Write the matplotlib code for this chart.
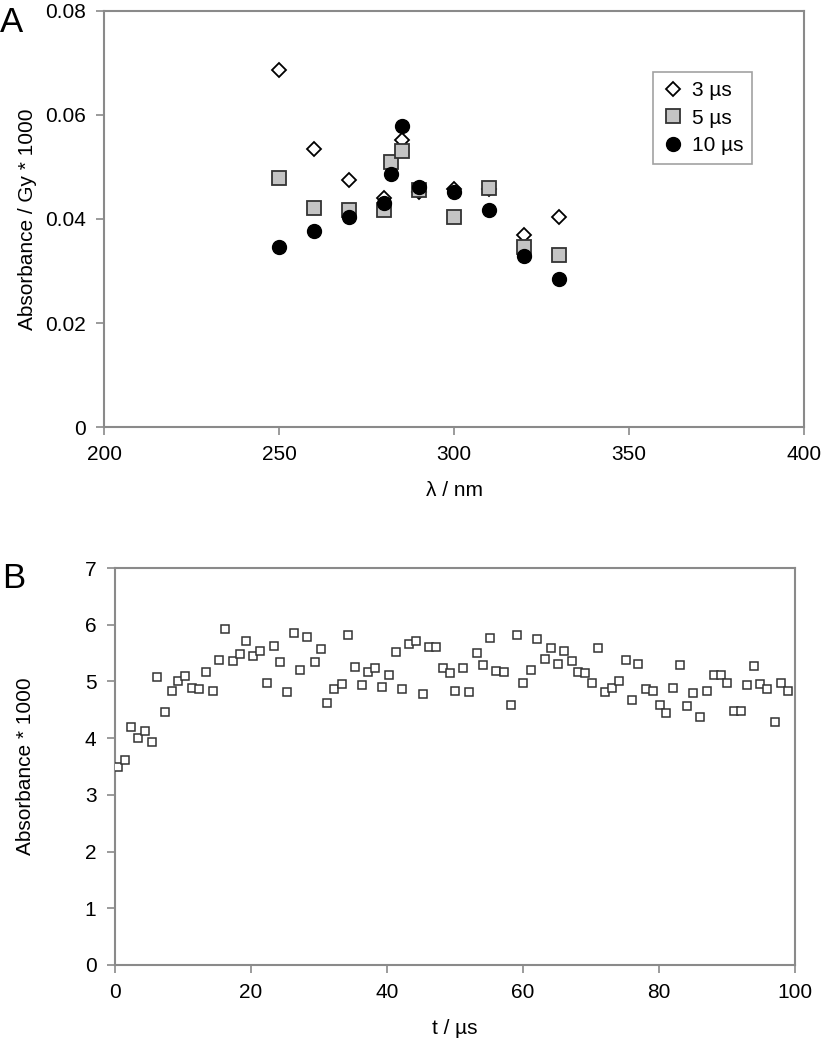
import matplotlib
matplotlib.use("Agg")
import matplotlib.pyplot as plt

plt.rcParams['font.family'] = ['Liberation Sans', 'DejaVu Sans']

# Panel A data
wavelength = [250, 260, 270, 280, 282, 285, 290, 300, 310, 320, 330]
abs_3us = [0.0687, 0.0535, 0.0475, 0.0440, None, 0.0552, 0.0452, 0.0458, 0.0458, 0.0369, 0.0404]
abs_5us = [0.0479, 0.0421, 0.0417, 0.0417, 0.0510, 0.0531, 0.0455, 0.0404, 0.0460, 0.0346, 0.0331]
abs_10us = [0.0346, 0.0377, 0.0404, 0.0431, 0.0487, 0.0579, 0.0462, 0.0452, 0.0417, 0.0329, 0.0285]
legend_labels = ["3 µs", "5 µs", "10 µs"]

# Panel B data
time_us = [0.5, 1.6, 2.4, 3.4, 4.5, 5.5, 6.3, 7.4, 8.4, 9.4,
           10.3, 11.4, 12.4, 13.4, 14.5, 15.4, 16.3, 17.4, 18.4, 19.3,
           20.3, 21.4, 22.4, 23.4, 24.3, 25.4, 26.4, 27.3, 28.3, 29.4,
           30.4, 31.3, 32.3, 33.4, 34.3, 35.3, 36.3, 37.3, 38.3, 39.3,
           40.3, 41.4, 42.3, 43.3, 44.3, 45.3, 46.2, 47.3, 48.2, 49.3,
           50.1, 51.2, 52.1, 53.2, 54.2, 55.2, 56.1, 57.2, 58.2, 59.2,
           60.1, 61.2, 62.1, 63.2, 64.2, 65.1, 66.1, 67.2, 68.1, 69.1,
           70.1, 71.1, 72.1, 73.1, 74.1, 75.1, 76.1, 77.0, 78.1, 79.1,
           80.1, 81.0, 82.1, 83.1, 84.1, 85.0, 86.0, 87.0, 88.1, 89.1,
           90.0, 91.0, 92.0, 93.0, 94.0, 94.9, 95.9, 97.0, 98.0, 98.9]
absorbance_b = [3.49, 3.62, 4.19, 4.00, 4.12, 3.94, 5.07, 4.46, 4.84, 5.01,
                5.09, 4.88, 4.86, 5.16, 4.84, 5.37, 5.92, 5.36, 5.49, 5.71,
                5.45, 5.53, 4.97, 5.63, 5.35, 4.82, 5.85, 5.21, 5.79, 5.34,
                5.57, 4.62, 4.87, 4.95, 5.82, 5.25, 4.93, 5.16, 5.23, 4.90,
                5.11, 5.52, 4.87, 5.66, 5.71, 4.78, 5.60, 5.60, 5.23, 5.15,
                4.84, 5.24, 4.81, 5.50, 5.29, 5.76, 5.19, 5.16, 4.58, 5.81,
                4.97, 5.20, 5.74, 5.39, 5.59, 5.30, 5.53, 5.36, 5.17, 5.14,
                4.98, 5.59, 4.81, 4.89, 5.01, 5.37, 4.68, 5.30, 4.87, 4.83,
                4.58, 4.44, 4.89, 5.29, 4.57, 4.79, 4.37, 4.84, 5.12, 5.12,
                4.97, 4.48, 4.47, 4.94, 5.27, 4.95, 4.86, 4.28, 4.97, 4.83]

AXC = '#8a8a8a'
FS = 15

fig = plt.figure(figsize=(8.24, 10.5), dpi=100)

def style(ax):
    for s in ax.spines.values():
        s.set_color(AXC)
        s.set_linewidth(1.5)
    ax.tick_params(direction='out', length=6, width=1.2, color=AXC,
                   labelsize=FS, labelcolor='black', pad=7)

# Panel A
axA = fig.add_axes([104/824, 1-427/1050, 700/824, 416/1050])
def pts(x, y):
    xs = [a for a, b in zip(x, y) if b is not None]
    ys = [b for b in y if b is not None]
    return xs, ys
x3, y3 = pts(wavelength, abs_3us)
axA.plot(x3, y3, linestyle='none', marker='D', markersize=7.5, markerfacecolor='white',
         markeredgecolor='black', markeredgewidth=1.3, label=legend_labels[0], zorder=3)
axA.plot(wavelength, abs_5us, linestyle='none', marker='s', markersize=10, markerfacecolor='#c4c4c4',
         markeredgecolor='#333333', markeredgewidth=1.3, label=legend_labels[1], zorder=4)
axA.plot(wavelength, abs_10us, linestyle='none', marker='o', markersize=10, markerfacecolor='black',
         markeredgecolor='black', label=legend_labels[2], zorder=5)
axA.set_xlim(200, 400)
axA.set_ylim(0, 0.08)
axA.set_xticks([200, 250, 300, 350, 400])
axA.set_yticks([0, 0.02, 0.04, 0.06, 0.08])
axA.set_yticklabels(['0', '0.02', '0.04', '0.06', '0.08'])
style(axA)
axA.set_xlabel('λ / nm', fontsize=FS, labelpad=12)
axA.set_ylabel('Absorbance / Gy * 1000', fontsize=FS, labelpad=6)
leg = axA.legend(loc='upper left', bbox_to_anchor=((653-104)/700, (427-72)/416),
                 fontsize=FS, frameon=True, fancybox=False, borderpad=0.45,
                 handletextpad=0.4, handlelength=1.0, labelspacing=0.4,
                 borderaxespad=0)
leg.get_frame().set_edgecolor(AXC)
leg.get_frame().set_linewidth(1.2)
fig.text(0.0, 1-22/1050, 'A', fontsize=25, va='center', ha='left')

# Panel B
axB = fig.add_axes([114.5/824, 1-965/1050, 680.5/824, 397/1050])
axB.plot(time_us, absorbance_b, linestyle='none', marker='s', markersize=5.5,
         markerfacecolor='white', markeredgecolor='#333333', markeredgewidth=1.1, zorder=3)
axB.set_xlim(0, 100)
axB.set_ylim(0, 7)
axB.set_xticks([0, 20, 40, 60, 80, 100])
axB.set_yticks(range(0, 8))
style(axB)
axB.set_xlabel('t / µs', fontsize=FS, labelpad=12)
axB.set_ylabel('Absorbance * 1000', fontsize=FS, labelpad=36)
fig.text(0.003, 1-578/1050, 'B', fontsize=25, va='center', ha='left')

fig.savefig('out.png', dpi=100)
